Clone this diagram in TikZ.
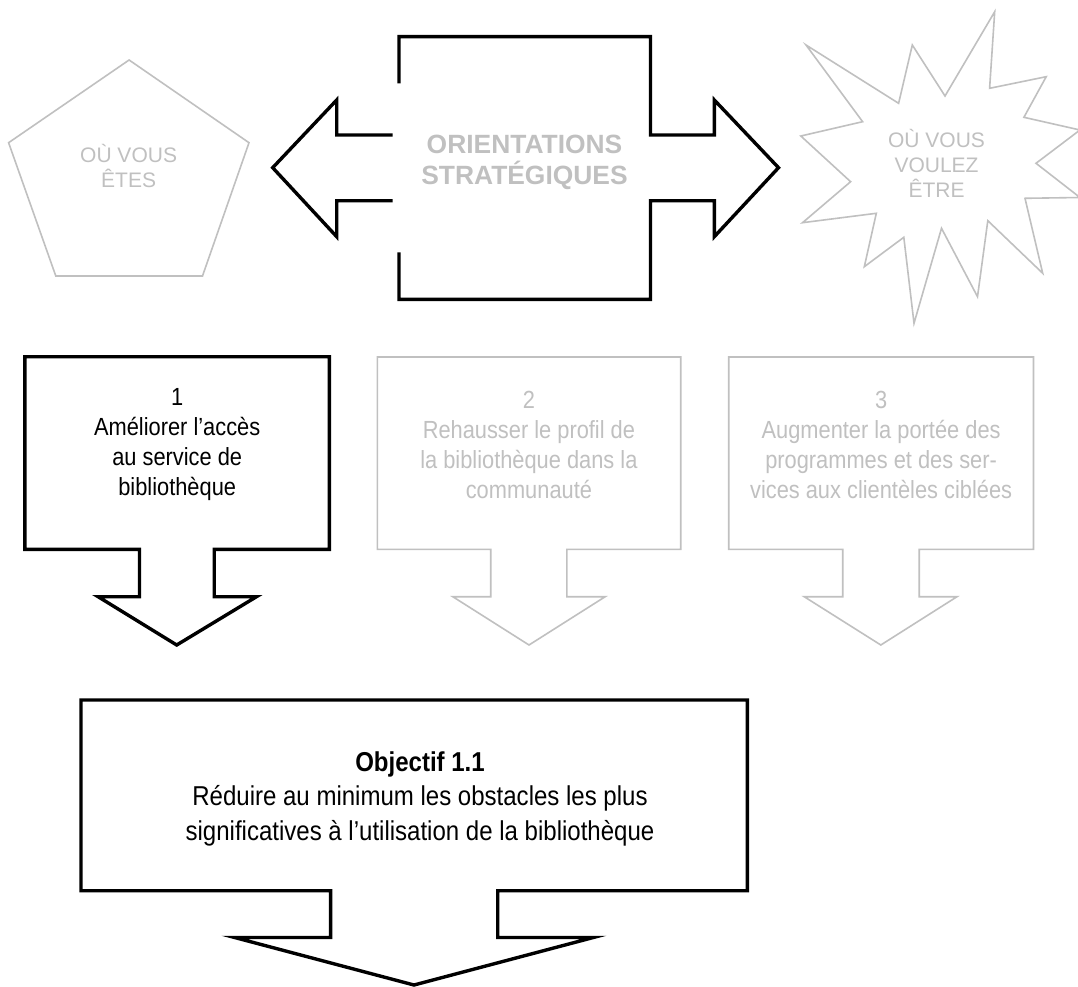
\documentclass[tikz,border=0pt]{standalone}
\usepackage{fontspec}
\setmainfont{Liberation Sans}
\newfontfamily\narrowf[FakeStretch=0.88]{Liberation Sans}
\definecolor{lgray}{RGB}{192,192,192}
\begin{document}
\begin{tikzpicture}[x=1pt,y=-1pt,
  dark/.style={draw=black,line width=3.4pt,fill=white},
  light/.style={draw=lgray,line width=1.6pt,fill=white},
  darkline/.style={draw=black,line width=3.4pt},
  toptxt/.style={text=lgray,align=center,inner sep=0pt,font=\fontsize{21}{25}\selectfont},
  boxtxt/.style={align=center,inner sep=0pt,font=\narrowf\fontsize{24.8}{30}\selectfont},
]
\useasboundingbox (0,0) rectangle (1078,987);

% pentagon
\draw[light] (129.1,60) -- (249,142.7) -- (202.5,276) -- (55.8,276) -- (8.6,142.7) -- cycle;
\node[toptxt] (ou) at (128.6,165.8) {OÙ VOUS\\ÊTES};

% star
\draw[light] (994.7,11.7) -- (989.6,88.3) -- (1046.2,76.7) -- (1023.9,117.3) -- (1080,130) -- (1036,163.3) -- (1080,197.5) -- (1025,198.3) -- (1042.7,273.3) -- (987.8,220.7) -- (977.5,296.7) -- (941.5,228.3) -- (914,323.3) -- (903.8,237.3) -- (864.3,266.7) -- (876.3,213.3) -- (802.5,222.7) -- (850.6,181.7) -- (800.8,136) -- (862.6,121.7) -- (806,45) -- (898.6,103.3) -- (912.3,45) -- (945,96) -- cycle;
\node[toptxt] (voulez) at (936.5,163) {OÙ VOUS\\VOULEZ\\ÊTRE};

% central double arrow callout
\draw[darkline,line join=miter] (399,83.3) -- (399,36.7) -- (650.5,36.7) -- (650.5,135) -- (714.3,135) -- (714.3,100) -- (778.5,167.7) -- (714.3,236.7) -- (714.3,200.7) -- (650.5,200.7) -- (650.5,299.3) -- (399,299.3) -- (399,252.3);
\draw[darkline,line join=miter] (392.7,135) -- (336.7,135) -- (336.7,100) -- (272.7,167.7) -- (336.7,236.7) -- (336.7,200.7) -- (392.7,200.7);
\node[text=lgray,align=center,inner sep=0pt,font=\bfseries\fontsize{26.4}{31}\selectfont] (orient) at (524.5,162.5) {ORIENTATIONS\\STRATÉGIQUES};

% box 1
\draw[dark] (24.8,356.7) -- (329.3,356.7) -- (329.3,549.3) -- (214.2,549.3) -- (214.2,596.7) -- (256.5,596.7) -- (176.7,645) -- (98.1,596.7) -- (139.5,596.7) -- (139.5,549.3) -- (24.8,549.3) -- cycle;
\node[boxtxt] (b1) at (177.2,444.5) {1\\Améliorer l’accès\\au service de\\bibliothèque};

% box 2
\draw[light] (377.3,357) -- (680.7,357) -- (680.7,549.3) -- (566.8,549.3) -- (566.8,596.7) -- (605.2,596.7) -- (529,645) -- (452.8,596.7) -- (490.7,596.7) -- (490.7,549.3) -- (377.3,549.3) -- cycle;
\node[boxtxt,text=lgray] (b2) at (528.9,444.5) {2\\Rehausser le profil de\\la bibliothèque dans la\\communauté};

% box 3
\draw[light] (728.7,357) -- (1033.5,357) -- (1033.5,549.3) -- (919.2,549.3) -- (919.2,596.7) -- (957,596.7) -- (880.8,645) -- (804.2,596.7) -- (842.7,596.7) -- (842.7,549.3) -- (728.7,549.3) -- cycle;
\node[boxtxt,text=lgray] (b3) at (881.1,444.5) {3\\Augmenter la portée des\\programmes et des ser-\\vices aux clientèles ciblées};

% bottom box
\draw[dark] (81,700) -- (747.3,700) -- (747.3,890.7) -- (497.7,890.7) -- (497.7,937.5) -- (593.3,937.5) -- (414,985) -- (234.7,937.5) -- (330.6,937.5) -- (330.6,890.7) -- (81,890.7) -- cycle;
\node[boxtxt,font=\narrowf\fontsize{27.3}{34.5}\selectfont] (obj) at (420,798.5) {\textbf{Objectif 1.1}\\Réduire au minimum les obstacles les plus\\significatives à l’utilisation de la bibliothèque};
\end{tikzpicture}
\end{document}
